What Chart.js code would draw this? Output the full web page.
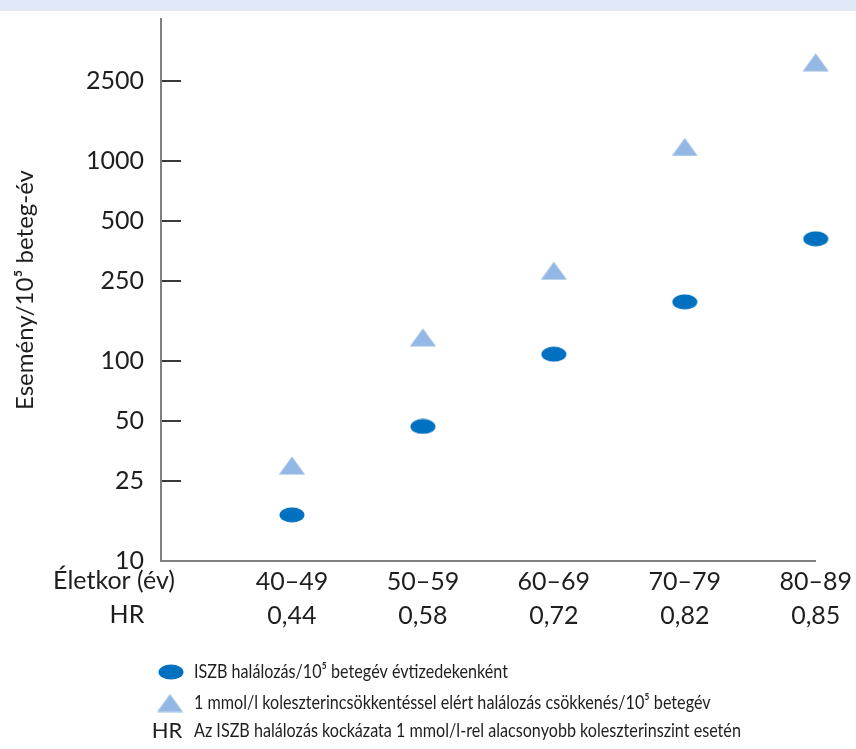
<!DOCTYPE html>
<html>
<head>
<meta charset="utf-8">
<script src="https://cdn.jsdelivr.net/npm/chart.js@4.4.1/dist/chart.umd.min.js"></script>
<style>
  body { margin: 0; background: #fff; }
  #wrap { position: relative; width: 856px; height: 749px; }
  #band { position: absolute; left: 0; top: 0; width: 856px; height: 11px; background: #e1e8f7; }
  #chart { position: absolute; left: 0; top: 0; }
</style>
</head>
<body>
<div id="wrap">
  <div id="band"></div>
  <canvas id="chart" width="856" height="749"></canvas>
</div>
<script>
// data
const ageGroups = ['40–49', '50–59', '60–69', '70–79', '80–89'];
const hrValues = ['0,44', '0,58', '0,72', '0,82', '0,85'];
const deathRates = [17, 47, 108, 197, 407];        // ISZB halálozás / 10^5 betegév
const reductions = [30, 131, 282, 1170, 3100];     // elért halálozás csökkenés / 10^5 betegév
const yTicks = [10, 25, 50, 100, 250, 500, 1000, 2500];

const legendLabels = [
    'ISZB halálozás/10⁵ betegév évtizedekenként',
    '1 mmol/l koleszterincsökkentéssel elért halálozás csökkenés/10⁵ betegév',
    'Az ISZB halálozás kockázata 1 mmol/l-rel alacsonyobb koleszterinszint esetén'
];

const darkBlue = '#0070c0';
const lightBlue = '#94b8e4';
const textColor = '#1e1e1e';

// marker images (flat ellipse and wide triangle like the original)
function makeEllipse(w, h, color) {
    const c = document.createElement('canvas');
    c.width = w; c.height = h;
    const g = c.getContext('2d');
    g.fillStyle = color;
    g.beginPath();
    g.ellipse(w / 2, h / 2, w / 2 - 0.5, h / 2 - 0.5, 0, 0, Math.PI * 2);
    g.fill();
    return c;
}
function makeTriangle(w, h, color) {
    const c = document.createElement('canvas');
    c.width = w; c.height = h;
    const g = c.getContext('2d');
    g.fillStyle = color;
    g.beginPath();
    g.moveTo(w / 2, 0.5);
    g.lineTo(w - 0.5, h - 0.5);
    g.lineTo(0.5, h - 0.5);
    g.closePath();
    g.fill();
    return c;
}
const ellipseImg = makeEllipse(26, 16, darkBlue);
const triangleImg = makeTriangle(27, 19, lightBlue);

// row captions on the left of the x labels + the legend block under the chart
const extraText = {
    id: 'extraText',
    afterDraw(chart) {
        const ctx = chart.ctx;
        ctx.save();
        ctx.fillStyle = textColor;
        ctx.textBaseline = 'middle';
        ctx.textAlign = 'center';
        ctx.font = '25px Lato';
        ctx.fillText('Életkor (év)', 114, 581);
        ctx.fillText('HR', 127, 615);

        // legend
        ctx.drawImage(ellipseImg, 171 - 13, 672 - 8);
        ctx.drawImage(triangleImg, 170 - 13.5, 703 - 9.5);
        ctx.font = '22px Lato';
        ctx.fillText('HR', 167, 731);

        // condensed look: squeeze the text horizontally
        ctx.textAlign = 'left';
        ctx.font = '19px Lato';
        const sx = 314 / ctx.measureText(legendLabels[0]).width;
        ctx.scale(sx, 1);
        ctx.fillText(legendLabels[0], 194 / sx, 672);
        ctx.fillText(legendLabels[1], 194 / sx, 703);
        ctx.fillText(legendLabels[2], 194 / sx, 731);
        ctx.restore();
    }
};

Chart.defaults.font.family = 'Lato';
Chart.defaults.color = textColor;

const ctx = document.getElementById('chart').getContext('2d');
const chart = new Chart(ctx, {
    type: 'scatter',
    data: {
        datasets: [
            {
                label: legendLabels[0],
                data: deathRates.map((v, i) => ({ x: i + 1, y: v })),
                pointStyle: ellipseImg,
                clip: false
            },
            {
                label: legendLabels[1],
                data: reductions.map((v, i) => ({ x: i + 1, y: v })),
                pointStyle: triangleImg,
                clip: false
            }
        ]
    },
    options: {
        responsive: false,
        animation: false,
        layout: { padding: { top: 19, right: 39, left: 0, bottom: 0 } },
        plugins: {
            legend: { display: false },
            tooltip: { enabled: false }
        },
        scales: {
            x: {
                type: 'linear',
                min: 0,
                max: 5,
                afterBuildTicks: (scale) => {
                    scale.ticks = ageGroups.map((g, i) => ({ value: i + 1 }));
                },
                afterFit: (scale) => { scale.height = 188; },
                grid: { display: false, drawTicks: false },
                border: { display: true, color: '#808080', width: 2 },
                ticks: {
                    maxRotation: 0,
                    autoSkip: false,
                    padding: 4,
                    font: { size: 25, lineHeight: 1.36 },
                    callback: (v) => [ageGroups[v - 1], hrValues[v - 1]]
                }
            },
            y: {
                type: 'logarithmic',
                min: 10,
                max: 5100,
                afterBuildTicks: (scale) => {
                    scale.ticks = yTicks.map(v => ({ value: v }));
                },
                afterFit: (scale) => {
                    scale.width = 161;
                    scale.paddingTop = 0;
                    scale.paddingBottom = 0;
                },
                grid: {
                    drawOnChartArea: false,
                    drawTicks: true,
                    tickLength: -20,
                    color: '#3a3a3a',
                    lineWidth: 2
                },
                border: { display: true, color: '#808080', width: 2 },
                ticks: {
                    padding: 37,
                    font: { size: 25 },
                    callback: (v) => String(v)
                },
                title: {
                    display: true,
                    text: 'Esemény/10⁵ beteg-év',
                    font: { size: 24 },
                    padding: { top: 11, bottom: 0 }
                }
            }
        }
    },
    plugins: [extraText]
});
</script>
</body>
</html>
